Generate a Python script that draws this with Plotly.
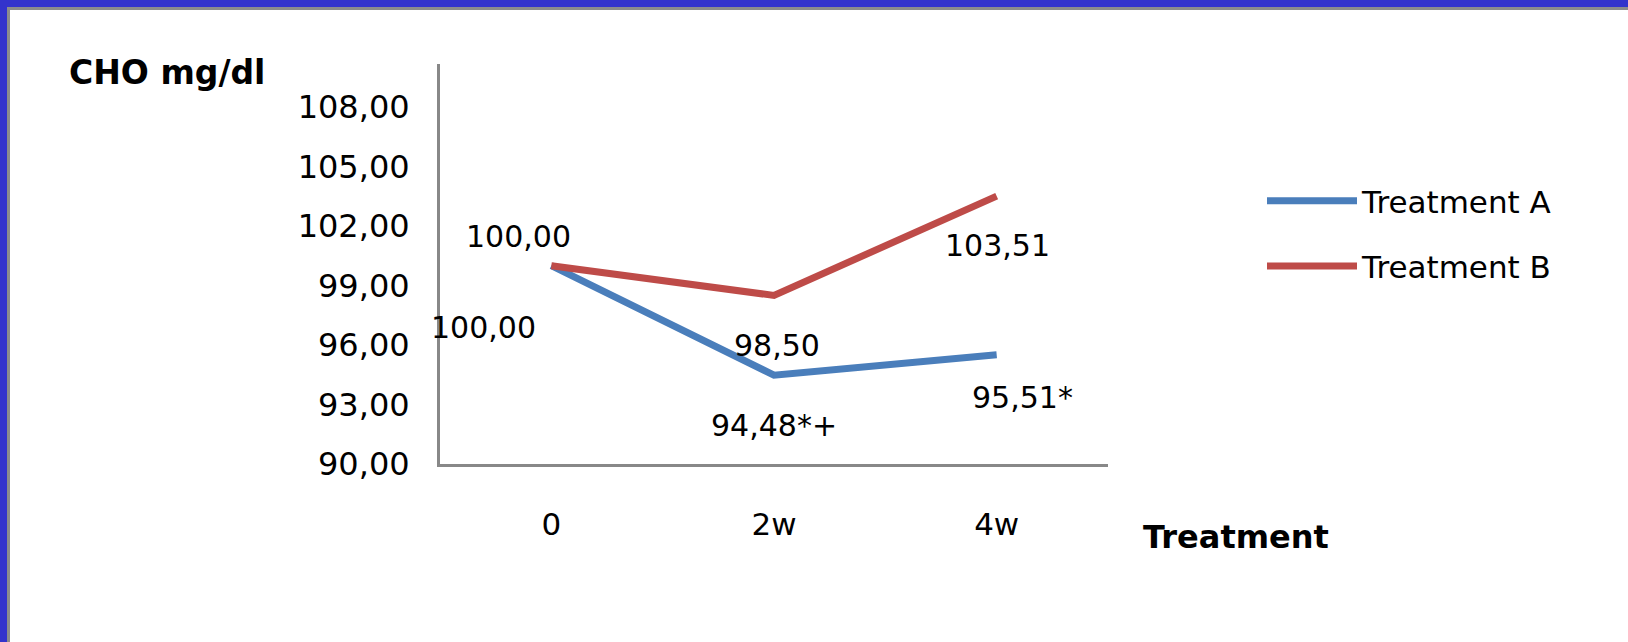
import plotly.graph_objects as go

# Serum cholesterol over the treatment period
weeks = ["0", "2w", "4w"]
treatment_a = [100.00, 94.48, 95.51]
treatment_b = [100.00, 98.50, 103.51]
marks_a = ["", "*+", "*"]
marks_b = ["", "", ""]
y_ticks = [90, 93, 96, 99, 102, 105, 108]

W, H = 1628, 642
ML, MR, MT, MB = 440, 520, 64, 178
PW, PH = W - ML - MR, H - MT - MB

def px_x(x):
    return (x - ML) / PW

def px_y(y):
    return 1 - (y - MT) / PH

def fmt(v):
    return f"{v:.2f}".replace(".", ",")

BLUE = "#4a7ebb"
RED = "#be4b48"
AXIS = "#888888"
FONT = "DejaVu Sans"

fig = go.Figure()
fig.add_trace(go.Scatter(x=weeks, y=treatment_a, mode="lines", name="Treatment A",
                         legendgroup="a", line=dict(color=BLUE, width=7)))
fig.add_trace(go.Scatter(x=weeks, y=treatment_b, mode="lines", name="Treatment B",
                         legendgroup="b", line=dict(color=RED, width=7)))

# value labels next to each point
offsets_a = [(-68, -62), (0, -50), (26, -43)]
offsets_b = [(-33, 29), (3, -50), (1, -49)]
annotations = []
for vals, marks, offs in ((treatment_a, marks_a, offsets_a), (treatment_b, marks_b, offsets_b)):
    for wk, v, m, (dx, dy) in zip(weeks, vals, marks, offs):
        annotations.append(dict(x=wk, y=v, xref="x", yref="y", text=fmt(v) + m,
                                showarrow=False, xshift=dx, yshift=dy,
                                font=dict(family=FONT, size=30, color="black")))

annotations.append(dict(x=px_x(67), y=px_y(72), xref="paper", yref="paper",
                        text="<b>CHO mg/dl</b>", showarrow=False, xanchor="left",
                        yanchor="middle", font=dict(family=FONT, size=33, color="black")))
annotations.append(dict(x=px_x(1236), y=px_y(537), xref="paper", yref="paper",
                        text="<b>Treatment</b>", showarrow=False, xanchor="center",
                        yanchor="middle", font=dict(family=FONT, size=32, color="black")))

# page frame: blue band with a grey inner edge along top and left
shapes = [
    dict(type="rect", xref="paper", yref="paper", x0=px_x(0), x1=px_x(W), y0=px_y(0), y1=px_y(7),
         fillcolor="#3333cc", line=dict(width=0), layer="above"),
    dict(type="rect", xref="paper", yref="paper", x0=px_x(7), x1=px_x(W), y0=px_y(7), y1=px_y(10),
         fillcolor="#8c8c8c", line=dict(width=0), layer="above"),
    dict(type="rect", xref="paper", yref="paper", x0=px_x(0), x1=px_x(7), y0=px_y(0), y1=px_y(H),
         fillcolor="#3333cc", line=dict(width=0), layer="above"),
    dict(type="rect", xref="paper", yref="paper", x0=px_x(7), x1=px_x(10), y0=px_y(7), y1=px_y(H),
         fillcolor="#8c8c8c", line=dict(width=0), layer="above"),
]

fig.update_layout(
    width=W, height=H,
    margin=dict(l=ML, r=MR, t=MT, b=MB, pad=0),
    paper_bgcolor="white", plot_bgcolor="white",
    showlegend=True,
    legend=dict(x=px_x(1262), y=px_y(174), xanchor="left", yanchor="top",
                traceorder="grouped", tracegroupgap=22, itemwidth=90,
                font=dict(family=FONT, size=31, color="black"),
                bgcolor="rgba(0,0,0,0)"),
    xaxis=dict(type="category", range=[-0.5, 2.5], showgrid=False, zeroline=False,
               showline=True, linecolor=AXIS, linewidth=3, ticks="",
               ticklabelstandoff=31,
               tickfont=dict(family=FONT, size=31, color="black")),
    yaxis=dict(range=[90, 110.17], showgrid=False, zeroline=False,
               showline=True, linecolor=AXIS, linewidth=3, ticks="",
               tickvals=y_ticks, ticktext=[fmt(v) for v in y_ticks],
               ticklabelstandoff=21,
               tickfont=dict(family=FONT, size=32, color="black")),
    annotations=annotations,
    shapes=shapes,
)

fig.write_html("out.html")
